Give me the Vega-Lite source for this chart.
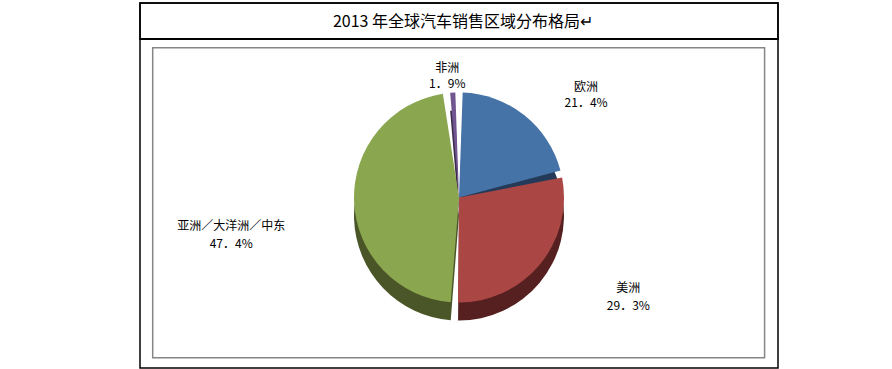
{
  "$schema": "https://vega.github.io/schema/vega-lite/v6.json",
  "background": "white",
  "padding": {"left": 138, "top": 1, "right": 116, "bottom": 3},
  "spacing": 0,
  "bounds": "flush",
  "config": {
    "view": {"stroke": "#000000", "strokeWidth": 1.5},
    "font": "Noto Sans CJK SC",
    "concat": {"spacing": 0}
  },
  "vconcat": [
    {
      "width": 638,
      "height": 36,
      "data": {"values": [{"title": "2013 年全球汽车销售区域分布格局↵"}]},
      "layer": [
        {
          "mark": {"type": "rect", "fillOpacity": 0, "stroke": "#000000", "strokeWidth": 1.5},
          "encoding": {"x": {"value": 0}, "x2": {"value": "width"}, "y": {"value": 0}, "y2": {"value": "height"}}
        },
        {
          "mark": {"type": "text", "fontSize": 16, "font": "Noto Sans CJK SC", "color": "#000000", "dx": 4, "dy": 1},
          "encoding": {"text": {"field": "title", "type": "nominal"}}
        }
      ]
    },
    {
      "width": 638,
      "height": 329,
      "data": {
        "values": [
          {"name": "欧洲", "share": 21.4, "order": 1, "label": "欧洲\n21．4%"},
          {"name": "美洲", "share": 29.3, "order": 2, "label": "美洲\n29．3%"},
          {"name": "亚洲／大洋洲／中东", "share": 47.4, "order": 3, "label": "亚洲／大洋洲／中东\n47．4%"},
          {"name": "非洲", "share": 1.9, "order": 4, "label": "非洲\n1．9%"}
        ]
      },
      "layer": [
        {
          "data": {"values": [{}]},
          "mark": {"type": "rect", "fillOpacity": 0, "stroke": "#868686", "strokeWidth": 1.5, "xOffset": 12.7, "x2Offset": -13.4, "yOffset": 8.7, "y2Offset": -10.3},
          "encoding": {"x": {"value": 0}, "x2": {"value": "width"}, "y": {"value": 0}, "y2": {"value": "height"}}
        },
        {
          "mark": {"type": "arc", "outerRadius": 105, "padAngle": 0.07, "yOffset": 12},
          "encoding": {
            "theta": {"field": "share", "type": "quantitative", "stack": true},
            "order": {"field": "order", "type": "quantitative"},
            "fill": {"field": "name", "type": "nominal", "legend": null,
              "scale": {"domain": ["欧洲", "美洲", "亚洲／大洋洲／中东", "非洲"], "range": ["#243A58", "#55201F", "#4A5528", "#3B2B4B"]}}
          }
        },
        {
          "mark": {"type": "arc", "outerRadius": 105, "padAngle": 0.07, "yOffset": -6},
          "encoding": {
            "theta": {"field": "share", "type": "quantitative", "stack": true},
            "order": {"field": "order", "type": "quantitative"},
            "color": {"field": "name", "type": "nominal", "legend": null,
              "scale": {"domain": ["欧洲", "美洲", "亚洲／大洋洲／中东", "非洲"], "range": ["#4572A7", "#AA4744", "#8AA64F", "#705590"]}}
          }
        },
        {
          "mark": {"type": "text", "clip": true, "radius": 129, "dx": -4, "dy": -7, "fontSize": 12, "lineBreak": "\n", "lineHeight": 16, "color": "#000000"},
          "encoding": {
            "theta": {"field": "share", "type": "quantitative", "stack": true},
            "order": {"field": "order", "type": "quantitative"},
            "text": {"condition": {"test": "datum.name === '非洲'", "field": "label", "type": "nominal"}, "value": ""}
          }
        },
        {
          "mark": {"type": "text", "clip": true, "radius": 172, "dx": 20, "dy": 18, "fontSize": 12, "lineBreak": "\n", "lineHeight": 16, "color": "#000000"},
          "encoding": {
            "theta": {"field": "share", "type": "quantitative", "stack": true},
            "order": {"field": "order", "type": "quantitative"},
            "text": {"condition": {"test": "datum.name === '欧洲'", "field": "label", "type": "nominal"}, "value": ""}
          }
        },
        {
          "mark": {"type": "text", "clip": true, "radius": 193, "dx": 21, "dy": -39, "fontSize": 12, "lineBreak": "\n", "lineHeight": 18, "color": "#000000"},
          "encoding": {
            "theta": {"field": "share", "type": "quantitative", "stack": true},
            "order": {"field": "order", "type": "quantitative"},
            "text": {"condition": {"test": "datum.name === '美洲'", "field": "label", "type": "nominal"}, "value": ""}
          }
        },
        {
          "mark": {"type": "text", "clip": true, "radius": 230, "dx": 2, "dy": 14, "fontSize": 12, "lineBreak": "\n", "lineHeight": 18, "color": "#000000"},
          "encoding": {
            "theta": {"field": "share", "type": "quantitative", "stack": true},
            "order": {"field": "order", "type": "quantitative"},
            "text": {"condition": {"test": "datum.name === '亚洲／大洋洲／中东'", "field": "label", "type": "nominal"}, "value": ""}
          }
        }
      ]
    }
  ]
}
